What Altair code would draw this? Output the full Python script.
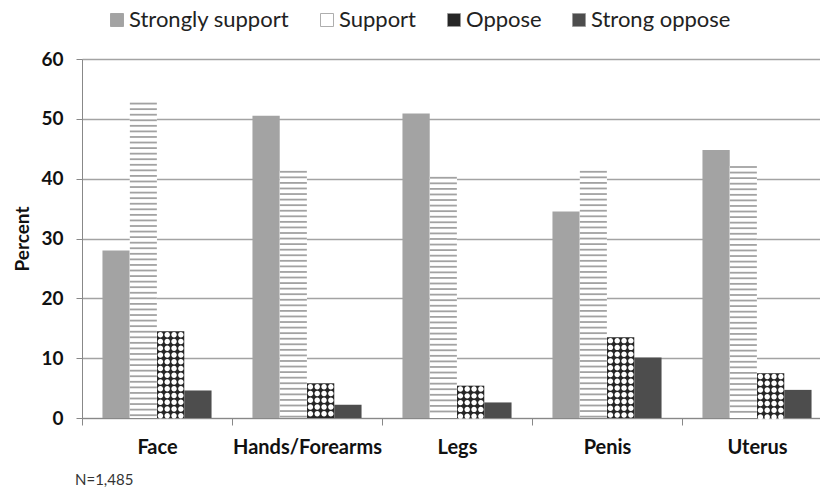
import altair as alt
import pandas as pd

# ---- data ----
parts = ["Face", "Hands/Forearms", "Legs", "Penis", "Uterus"]
series = ["Strongly support", "Support", "Oppose", "Strong oppose"]
strongly_support = [28.0, 50.5, 50.9, 34.5, 44.8]
support = [52.7, 41.3, 40.3, 41.3, 42.1]
oppose = [14.5, 5.8, 5.4, 13.5, 7.5]
strong_oppose = [4.6, 2.2, 2.6, 10.1, 4.7]
y_ticks = [0, 10, 20, 30, 40, 50, 60]
note = "N=1,485"

fills = ["#a3a3a3", "#ffffff", "#262626", "#4d4d4d"]

rows = []
for s, vals in zip(series, [strongly_support, support, oppose, strong_oppose]):
    for p, v in zip(parts, vals):
        rows.append({"part": p, "series": s, "value": v})
df = pd.DataFrame(rows)

FONT = "Lato"

# a row of four small circles (texture for the "Oppose" bars), in unit symbol space
r = 0.2
dot_row = "".join(
    f"M{c - r:.3f},0A{r},{r} 0 1,0 {c + r:.3f},0A{r},{r} 0 1,0 {c - r:.3f},0Z"
    for c in (-0.75, -0.25, 0.25, 0.75)
)

x_enc = alt.X(
    "part:N",
    sort=parts,
    scale=alt.Scale(range=[0, 750], paddingInner=0, paddingOuter=0),
    axis=alt.Axis(
        title=None,
        tickBand="extent",
        tickSize=7,
        tickColor="#888888",
        domainColor="#888888",
        labelAngle=0,
        labelFont=FONT,
        labelFontSize=20,
        labelFontWeight="bold",
        labelColor="#111111",
        labelPadding=12,
        grid=False,
    ),
)
xo_enc = alt.XOffset(
    "series:N", sort=series, scale=alt.Scale(paddingInner=0, paddingOuter=0.75)
)
y_enc = alt.Y(
    "value:Q",
    scale=alt.Scale(domain=[0, 60], nice=False),
    axis=alt.Axis(
        values=y_ticks,
        title="Percent",
        titleFont=FONT,
        titleFontSize=19,
        titleFontWeight="bold",
        titleColor="#111111",
        titlePadding=8,
        labelFont=FONT,
        labelFontSize=19,
        labelFontWeight="bold",
        labelColor="#111111",
        labelPadding=13,
        tickSize=6,
        tickColor="#888888",
        domainColor="#888888",
        gridColor="#a3a3a3",
        gridWidth=1.3,
    ),
)

base = alt.Chart(df)

bars = base.mark_bar().encode(
    x=x_enc,
    xOffset=xo_enc,
    y=y_enc,
    color=alt.Color(
        "series:N",
        sort=series,
        scale=alt.Scale(domain=series, range=fills),
        legend=alt.Legend(
            title=None,
            orient="none",
            direction="horizontal",
            legendX=24,
            legendY=-50,
            symbolType="square",
            symbolSize=169,
            symbolStrokeColor="#999999",
            symbolStrokeWidth=0.8,
            labelFont=FONT,
            labelFontSize=22,
            labelLimit=0,
            labelColor="#222222",
            labelOffset=1,
            columnPadding=26,
        ),
    ),
)

# horizontal-line texture for "Support"
stripes = (
    base.transform_filter(alt.datum.series == "Support")
    .transform_calculate(s="sequence(datum.value - 0.15, 0.2, -0.93)")
    .transform_flatten(["s"])
    .mark_tick(color="#7a7a7a", thickness=1.8, size=27)
    .encode(x=x_enc, xOffset=xo_enc, y=alt.Y("s:Q"))
)

# circle texture for "Oppose"
dots = (
    base.transform_filter(alt.datum.series == "Oppose")
    .transform_calculate(s="sequence(datum.value - 0.57, 0.1, -1.13)")
    .transform_flatten(["s"])
    .mark_point(shape=dot_row, size=744, filled=True, fill="#ffffff",
                opacity=1, strokeWidth=0)
    .encode(x=x_enc, xOffset=xo_enc, y=alt.Y("s:Q"))
)

chart = (
    alt.layer(bars, stripes, dots)
    .properties(
        width=738,
        height=359,
        autosize=alt.AutoSizeParams(type="none"),
        padding={"left": 82, "top": 59, "right": 0, "bottom": 77},
        title=alt.TitleParams(
            note,
            orient="bottom",
            anchor="start",
            frame="group",
            font=FONT,
            fontSize=15,
            fontWeight="normal",
            color="#333333",
            offset=16,
            dx=-7,
        ),
    )
    .configure_view(stroke=None)
    .configure(font=FONT)
)

chart.save("out.html", embed_options={"renderer": "svg", "actions": False})
